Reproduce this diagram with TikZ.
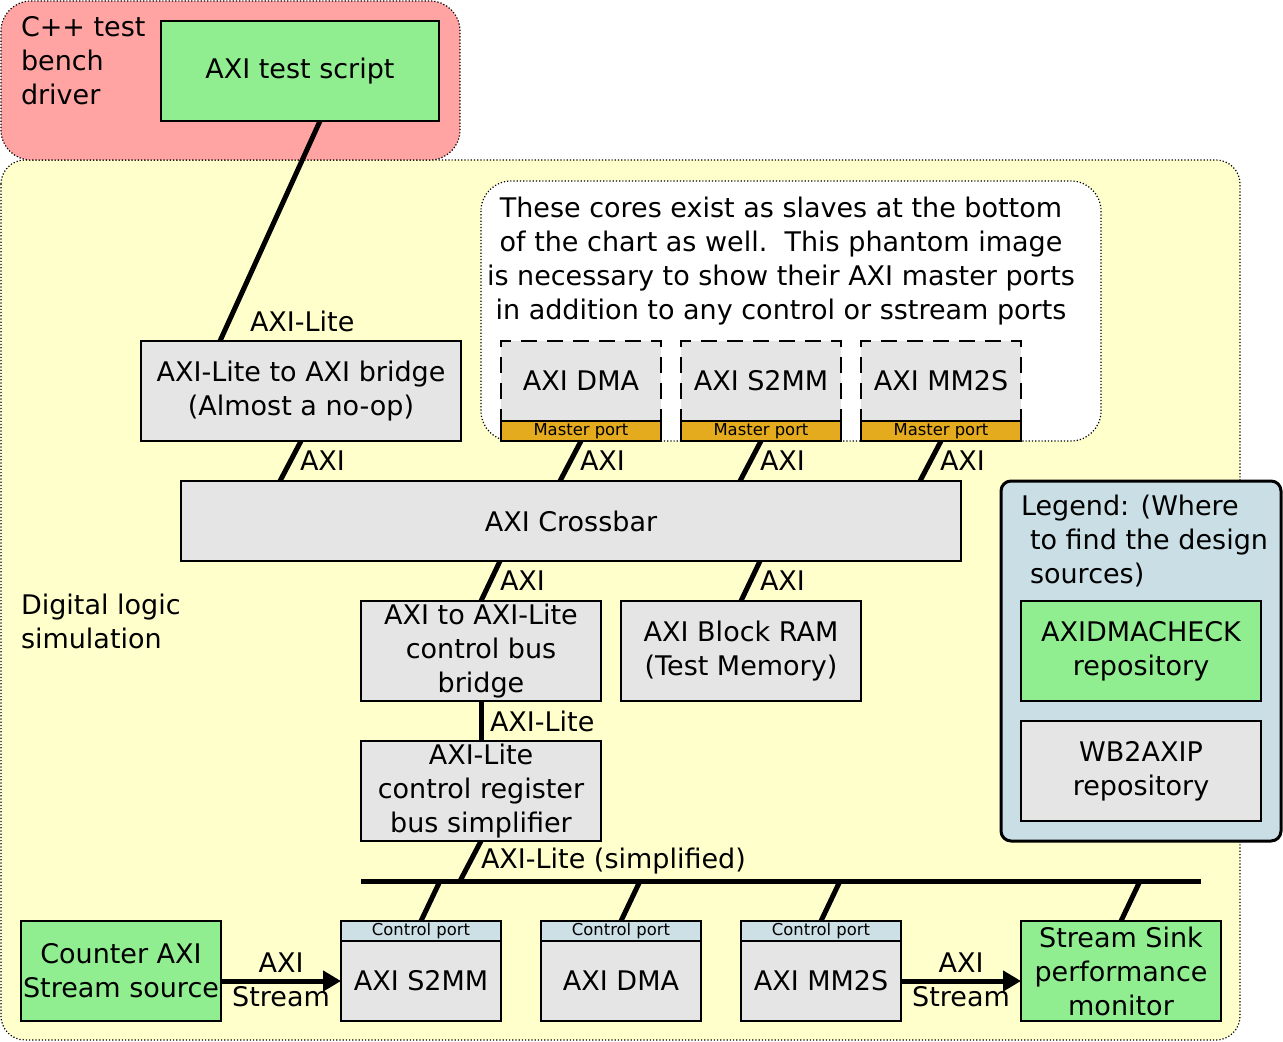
\documentclass[tikz,border=0pt]{standalone}
\usepackage{fontspec}
\setmainfont{DejaVu Sans}
\usetikzlibrary{arrows.meta,calc}
\definecolor{pinkbg}{HTML}{FFA3A3}
\definecolor{yellowbg}{HTML}{FFFFCC}
\definecolor{greenbox}{HTML}{90EE90}
\definecolor{graybox}{HTML}{E5E5E5}
\definecolor{portgold}{HTML}{E5AB1F}
\definecolor{portblue}{HTML}{CCE0E6}
\definecolor{legendbg}{HTML}{C9DFE5}
\begin{document}
\begin{tikzpicture}[x=0.5pt,y=-0.5pt,
  every node/.style={inner sep=0pt, outer sep=0pt, font=\fontsize{13.5}{17}\selectfont},
  blk/.style={draw=black, line width=1pt, align=center},
  graybk/.style={blk, fill=graybox},
  greenbk/.style={blk, fill=greenbox},
  phantom/.style={draw=black, line width=1pt, dash pattern=on 8pt off 5pt, fill=graybox, minimum width=80pt, minimum height=40pt},
  mport/.style={draw=black, line width=1pt, fill=portgold, minimum width=80pt, minimum height=10pt, font=\fontsize{8.2}{9}\selectfont},
  cport/.style={draw=black, line width=1pt, fill=portblue, minimum width=80pt, minimum height=10pt, font=\fontsize{8.2}{9}\selectfont},
  corebody/.style={graybk, minimum width=80pt, minimum height=40pt},
  big/.style={minimum width=120pt, minimum height=50pt},
  wire/.style={line width=2.5pt, draw=black},
  flow/.style={line width=2.5pt, draw=black, -{Triangle[length=9pt,width=10pt]}},
  lbl/.style={anchor=west},
  container/.style={draw=black, line width=0.6pt, densely dotted},
]
\useasboundingbox (0,0) rectangle (1283,1042);
% containers
\draw[container, fill=yellowbg, rounded corners=12pt] (1,160) rectangle (1240,1040);
\draw[container, fill=pinkbg, rounded corners=15pt] (1,1) rectangle (460,160);
\draw[container, fill=white, rounded corners=15pt] (481,181) rectangle (1101,441);

\node[anchor=west, align=left] (cpptb) at (21,61) {C++ test\\bench\\driver};
\node[anchor=west, align=left] (dls) at (21,621) {Digital logic\\simulation};
\node[align=center] (note) at (781,261) {These cores exist as slaves at the bottom\\ of the chart as well.\ \ This phantom image\\is necessary to show their AXI master ports\\in addition to any control or sstream ports};

% top
\node[greenbk, minimum width=139pt, minimum height=50pt] (script) at (300,71) {AXI test script};
\node[graybk, minimum width=160pt, minimum height=50pt] (bridge) at (301,391) {AXI-Lite to AXI bridge\\(Almost a no-op)};

% phantom cores
\node[phantom] (pdma) at (581,381) {AXI DMA};
\node[mport] (pdmap) at (581,431) {Master port};
\node[phantom] (ps2mm) at (761,381) {AXI S2MM};
\node[mport] (ps2mmp) at (761,431) {Master port};
\node[phantom] (pmm2s) at (941,381) {AXI MM2S};
\node[mport] (pmm2sp) at (941,431) {Master port};

% crossbar and below
\node[graybk, minimum width=390pt, minimum height=40pt] (xbar) at (571,521) {AXI Crossbar};
\node[graybk, big] (ctrlbr) at (481,651) {AXI to AXI-Lite\\control bus\\bridge};
\node[graybk, big] (bram) at (741,651) {AXI Block RAM\\(Test Memory)};
\node[graybk, big] (simp) at (481,791) {AXI-Lite\\control register\\bus simplifier};

% bottom row
\node[greenbk, minimum width=100pt, minimum height=50pt] (counter) at (121,971) {Counter AXI\\Stream source};
\node[corebody] (s2mm) at (421,981) {AXI S2MM};
\node[cport] (s2mmp) at (421,931) {Control port};
\node[corebody] (dma) at (621,981) {AXI DMA};
\node[cport] (dmap) at (621,931) {Control port};
\node[corebody] (mm2s) at (821,981) {AXI MM2S};
\node[cport] (mm2sp) at (821,931) {Control port};
\node[greenbk, minimum width=100pt, minimum height=50pt] (sink) at (1121,971) {Stream Sink\\performance\\monitor};

% legend
\node[draw=black, line width=1.5pt, fill=legendbg, rounded corners=5pt, minimum width=140pt, minimum height=180pt] (legend) at (1141,661) {};
\node[anchor=west, align=left] (legtxt) at (1021,541) {Legend: (Where\\\hspace*{4.5pt}to find the design\\\hspace*{4.5pt}sources)};
\node[greenbk, big] (legA) at (1141,651) {AXIDMACHECK\\repository};
\node[graybk, big] (legB) at (1141,771) {WB2AXIP\\repository};

% bus
\coordinate (busL) at (361,881);
\coordinate (busR) at (1201,881);
\coordinate (bsimp) at (460,881);
\coordinate (b1) at (440,881);
\coordinate (b2) at (640,881);
\coordinate (b3) at (840,881);
\coordinate (b4) at (1140,881);
\draw[wire] (busL) -- (busR);

% connectors
\draw[wire] ([xshift=10pt]script.south) -- ([xshift=-40.5pt]bridge.north);
\draw[wire] (bridge.south) -- ([xshift=-145.5pt]xbar.north);
\draw[wire] (pdmap.south) -- ([xshift=-5.5pt]xbar.north);
\draw[wire] (ps2mmp.south) -- ([xshift=84.5pt]xbar.north);
\draw[wire] (pmm2sp.south) -- ([xshift=174.5pt]xbar.north);
\draw[wire] ([xshift=-35.5pt]xbar.south) -- (ctrlbr.north);
\draw[wire] ([xshift=94.5pt]xbar.south) -- (bram.north);
\draw[wire] (ctrlbr.south) -- (simp.north);
\draw[wire] (simp.south) -- (bsimp);
\draw[wire] (b1) -- (s2mmp.north);
\draw[wire] (b2) -- (dmap.north);
\draw[wire] (b3) -- (mm2sp.north);
\draw[wire] (b4) -- (sink.north);
\draw[flow] ([yshift=-5pt]counter.east) -- (s2mm.west);
\draw[flow] (mm2s.east) -- ([yshift=-5pt]sink.west);

% labels
\node[lbl] (l1) at (250,321) {AXI-Lite};
\node[lbl] (l2) at (300,461) {AXI};
\node[lbl] (l3) at (580,461) {AXI};
\node[lbl] (l4) at (760,461) {AXI};
\node[lbl] (l5) at (940,461) {AXI};
\node[lbl] (l6) at (500,581) {AXI};
\node[lbl] (l7) at (760,581) {AXI};
\node[lbl] (l8) at (490,721) {AXI-Lite};
\node[lbl] (l9) at (481,861) {AXI-Lite (simplified)};
\node (l10) at (281,963) {AXI};
\node (l11) at (281,997) {Stream};
\node (l12) at (961,963) {AXI};
\node (l13) at (961,997) {Stream};
\end{tikzpicture}
\end{document}
